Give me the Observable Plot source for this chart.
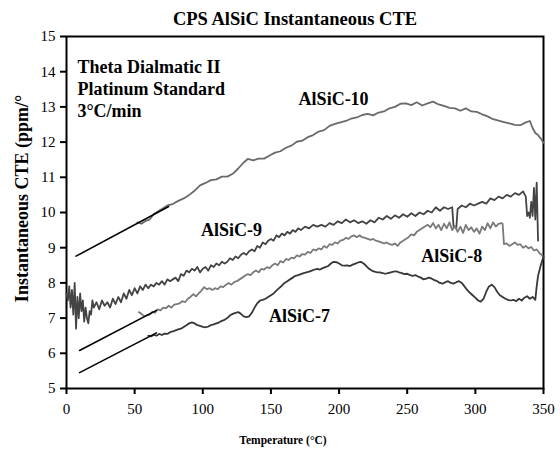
<!DOCTYPE html>
<html>
<head>
<meta charset="utf-8">
<script src="https://cdn.jsdelivr.net/npm/d3@7"></script>
<script src="https://cdn.jsdelivr.net/npm/@observablehq/plot@0.6"></script>
<style>
  body { margin: 0; background: #fff; }
  #chart svg { display: block; }
  #chart svg, #chart svg text { font-family: "Liberation Serif", "Times New Roman", Times, serif !important; }
</style>
</head>
<body>
<div id="chart"></div>
<script>
// ---- data ----
const chartTitle = "CPS AlSiC Instantaneous CTE";
const xLabel = "Temperature (°C)";
const yLabel = "Instantaneous CTE (ppm/°";
const xTicks = [0, 50, 100, 150, 200, 250, 300, 350];
const yTicks = [5, 6, 7, 8, 9, 10, 11, 12, 13, 14, 15];
const noteLines = ["Theta Dialmatic II", "Platinum Standard", "3°C/min"];

const t10 = [52,55,58,61,64,67,70,74,78,82,86,90,94,98,102,106,110,114,118,122,126,130,133,137,141,145,149,153,157,161,165,169,173,177,181,185,189,193,197,201,205,209,213,217,221,225,229,233,237,241,245,249,253,257,261,265,269,273,277,281,285,289,293,297,301,305,309,313,317,321,325,329,333,337,340,342,344,346,348,350];
const v10 = [9.72,9.68,9.76,9.8,9.95,10.03,10.1,10.2,10.24,10.33,10.4,10.5,10.62,10.77,10.84,10.92,10.94,11.02,11.02,11.1,11.25,11.42,11.52,11.48,11.53,11.53,11.62,11.7,11.74,11.84,11.9,12.01,12.04,12.14,12.2,12.3,12.34,12.46,12.52,12.56,12.6,12.67,12.7,12.77,12.8,12.76,12.84,12.87,12.96,13.0,13.09,13.1,13.05,13.13,13.04,13.1,13.15,13.07,13.03,12.97,12.96,12.89,12.96,12.87,12.86,12.79,12.73,12.65,12.61,12.57,12.53,12.49,12.48,12.56,12.6,12.4,12.26,12.2,12.1,11.98];

const t9 = [0,1,2,3,4,5,6,7,8,9,10,11,12,13,14,15,16,17,18,19,20,22,24,26,28,30,32,34,36,38,40,42,44,46,48,50,52,54,56,58,60,62,64,66,68,70,72,74,76,78,80,82,84,86,88,90,92,94,96,98,100,102,104,106,108,110,112,114,116,118,120,122,124,126,128,130,132,134,136,138,140,142,144,146,148,150,152,154,156,158,160,162,164,166,168,170,172,175,178,181,184,187,190,193,196,199,202,205,208,211,214,217,220,223,226,229,232,235,238,241,244,247,250,253,256,259,262,265,268,271,274,277,280,283,284,286,287,290,293,296,299,302,305,308,311,314,317,320,323,326,329,332,335,337,338,339,340,341,342,343,344,345,346];
const v9 = [7.7,7.5,7.9,7.3,7.8,7.1,8.0,6.7,7.6,7.0,7.7,7.2,7.5,6.9,7.3,7.0,6.85,7.2,7.1,7.5,7.3,7.45,7.25,7.5,7.35,7.45,7.3,7.55,7.4,7.6,7.45,7.7,7.55,7.8,7.65,7.85,7.7,7.9,7.8,7.95,7.85,7.95,7.9,8.0,7.95,8.05,7.95,8.1,8.05,8.1,8.15,8.05,8.25,8.2,8.35,8.3,8.4,8.35,8.45,8.3,8.4,8.45,8.35,8.5,8.45,8.55,8.5,8.6,8.55,8.6,8.7,8.65,8.75,8.7,8.8,8.85,8.8,8.9,8.95,8.9,9.05,9.0,9.15,9.1,9.2,9.25,9.2,9.35,9.3,9.4,9.35,9.45,9.4,9.5,9.45,9.55,9.5,9.6,9.55,9.65,9.6,9.65,9.6,9.7,9.65,9.75,9.7,9.8,9.72,9.78,9.7,9.75,9.68,9.78,9.72,9.85,9.8,9.9,9.82,9.92,9.85,9.95,9.88,9.98,9.9,10.0,9.95,10.05,10.0,10.15,10.05,10.15,10.1,10.15,9.6,9.55,10.1,10.2,10.15,10.25,10.2,10.25,10.3,10.25,10.4,10.35,10.45,10.4,10.5,10.45,10.55,10.5,10.6,10.45,9.9,10.0,9.85,10.3,9.9,10.7,9.8,10.85,9.2];

const t8 = [53,55,57,59,61,63,65,67,69,71,73,75,77,79,81,83,85,87,89,91,93,95,97,99,101,103,105,107,109,111,113,115,117,119,121,123,125,127,129,131,133,135,137,139,141,143,145,147,149,151,153,155,157,159,161,163,165,167,169,171,173,175,177,179,181,183,185,187,189,191,193,195,197,199,201,203,205,207,209,211,213,215,217,219,221,223,225,227,229,231,233,235,237,239,241,243,245,247,249,251,253,255,257,259,261,263,265,267,269,271,273,275,277,279,281,283,285,287,289,291,293,295,297,299,301,303,305,307,309,311,313,315,317,319,320,321,323,325,327,329,331,333,335,337,339,341,343,345,347,349,350];
const v8 = [7.17,7.12,7.05,7.08,7.1,7.18,7.15,7.25,7.22,7.3,7.28,7.35,7.3,7.38,7.4,7.42,7.48,7.45,7.55,7.6,7.68,7.62,7.7,7.78,7.88,7.82,7.85,7.8,7.85,7.82,7.9,7.88,7.95,8.0,7.95,8.02,8.05,8.1,8.15,8.2,8.25,8.22,8.3,8.35,8.3,8.4,8.38,8.45,8.42,8.5,8.55,8.5,8.62,8.58,8.68,8.65,8.72,8.7,8.78,8.75,8.82,8.8,8.88,8.85,8.95,8.92,8.98,8.95,9.05,9.0,9.1,9.08,9.15,9.12,9.2,9.22,9.28,9.25,9.32,9.35,9.3,9.35,9.3,9.28,9.25,9.22,9.25,9.2,9.18,9.15,9.12,9.15,9.1,9.08,9.12,9.05,9.15,9.2,9.25,9.3,9.38,9.35,9.45,9.5,9.55,9.6,9.65,9.58,9.7,9.55,9.65,9.5,9.68,9.55,9.72,9.5,9.62,9.45,9.6,9.42,9.65,9.5,9.58,9.45,9.55,9.4,9.6,9.5,9.7,9.55,9.72,9.6,9.68,9.7,9.68,9.1,9.12,9.05,9.1,9.15,9.08,9.1,9.0,9.05,8.98,9.02,8.92,8.95,8.85,8.78,8.72];

const t7 = [60,62,64,66,68,70,72,74,76,78,80,82,84,86,88,90,92,94,96,98,100,102,104,106,108,110,112,114,116,118,120,122,124,126,128,130,132,134,136,138,140,142,144,146,148,150,152,154,156,158,160,162,164,166,168,170,172,174,176,178,180,182,184,186,188,190,192,194,196,198,200,202,204,206,208,210,212,214,216,218,220,222,224,226,228,230,232,234,236,238,240,242,244,246,248,250,252,254,256,258,260,262,264,266,268,270,272,274,276,278,280,282,284,286,288,290,292,294,296,298,300,302,304,306,308,310,312,314,316,318,320,322,324,326,328,330,332,334,336,338,340,342,344,345,346,348,350];
const v7 = [6.5,6.48,6.52,6.5,6.55,6.52,6.56,6.55,6.6,6.62,6.65,6.68,6.7,6.75,6.8,6.85,6.88,6.85,6.8,6.78,6.75,6.74,6.76,6.8,6.82,6.85,6.88,6.92,6.95,7.0,7.08,7.12,7.15,7.17,7.12,7.05,7.03,7.05,7.15,7.3,7.42,7.5,7.52,7.55,7.6,7.65,7.7,7.78,7.85,7.92,8.0,8.05,8.1,8.15,8.2,8.22,8.25,8.28,8.3,8.32,8.35,8.38,8.4,8.38,8.42,8.45,8.48,8.55,8.6,8.59,8.55,8.5,8.49,8.5,8.48,8.52,8.55,8.58,8.6,8.55,8.48,8.4,8.35,8.32,8.3,8.3,8.28,8.26,8.28,8.3,8.32,8.33,8.3,8.28,8.25,8.26,8.22,8.2,8.22,8.18,8.15,8.1,8.12,8.15,8.12,8.08,8.05,8.0,7.98,8.02,8.05,8.0,7.98,8.02,8.05,8.0,7.9,7.8,7.72,7.65,7.58,7.5,7.47,7.55,7.75,7.9,7.95,7.88,7.75,7.65,7.6,7.55,7.52,7.5,7.52,7.48,7.55,7.5,7.58,7.62,7.55,7.6,7.52,7.9,8.2,8.5,8.75];

// straight reference lines (start/end temperature and CTE)
const refT = [[7, 75], [9.6, 66], [9.6, 66]];
const refV = [[8.76, 10.17], [6.08, 7.22], [5.45, 6.58]];

const seriesNames = ["AlSiC-10", "AlSiC-9", "AlSiC-8", "AlSiC-7"];
const seriesColors = ["#6a6a6a", "#444444", "#7a7a7a", "#383838"];
const labelT = [196, 121, 282.7, 171];
const labelV = [13.22, 9.49, 8.75, 7.05];
const noteT = 8;
const noteV = [14.12, 13.51, 12.88];

// ---- build tables ----
const allT = [t10, t9, t8, t7];
const allV = [v10, v9, v8, v7];
const curves = [];
seriesNames.forEach((name, i) => {
  allT[i].forEach((t, j) => curves.push({series: name, t, v: allV[i][j]}));
});
const refs = [];
refT.forEach((ts, i) => ts.forEach((t, j) => refs.push({id: i, t, v: refV[i][j]})));
const labels = seriesNames.map((name, i) => ({name, t: labelT[i], v: labelV[i]}));
const notes = noteLines.map((text, i) => ({text, t: noteT, v: noteV[i]}));

const serif = "Liberation Serif, Times New Roman, serif";

const chart = Plot.plot({
  width: 560,
  height: 452,
  marginTop: 36,
  marginLeft: 66,
  marginRight: 17,
  marginBottom: 64,
  style: {fontFamily: serif, fontSize: "15px", background: "#fff", color: "#000", overflow: "visible"},
  x: {domain: [0, 350]},
  y: {domain: [5, 15]},
  color: {domain: seriesNames, range: seriesColors},
  marks: [
    Plot.frame({stroke: "#000", strokeWidth: 2}),
    Plot.line(curves, {x: "t", y: "v", z: "series", stroke: "series", strokeWidth: 1.8}),
    Plot.line(refs, {x: "t", y: "v", z: "id", stroke: "#000", strokeWidth: 1.6}),
    Plot.axisX({ticks: xTicks, tickSize: 6, tickPadding: 9, tickFormat: d => String(d), label: null, fontSize: 15, strokeWidth: 2}),
    Plot.axisY({ticks: yTicks, tickSize: 6, tickPadding: 5, tickFormat: d => String(d), label: null, fontSize: 15, strokeWidth: 2}),
    Plot.text(labels, {x: "t", y: "v", text: "name", fontWeight: "bold", fontSize: 18, textAnchor: "middle", lineAnchor: "middle", fill: "#000"}),
    Plot.text(notes, {x: "t", y: "v", text: "text", fontWeight: "bold", fontSize: 18, textAnchor: "start", lineAnchor: "middle", fill: "#000"}),
    Plot.text([chartTitle], {frameAnchor: "top", dy: -17, dx: -10, text: d => d, fontWeight: "bold", fontSize: 18.5, lineAnchor: "middle", fill: "#000"}),
    Plot.text([xLabel], {frameAnchor: "bottom", dy: 52, dx: -22, text: d => d, fontWeight: "bold", fontSize: 11.5, lineAnchor: "middle", fill: "#000"}),
    Plot.text([yLabel], {frameAnchor: "left", dx: -44, dy: -14, rotate: -90, text: d => d, fontWeight: "bold", fontSize: 18, lineAnchor: "middle", textAnchor: "middle", fill: "#000"})
  ]
});
document.getElementById("chart").appendChild(chart);
</script>
</body>
</html>
